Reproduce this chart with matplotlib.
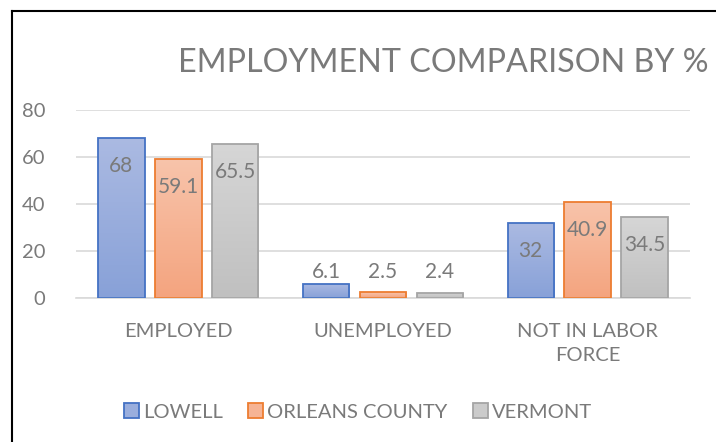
import matplotlib
matplotlib.use("Agg")
import matplotlib.pyplot as plt
import numpy as np
from matplotlib.colors import LinearSegmentedColormap, to_rgb
from matplotlib.lines import Line2D
from matplotlib.patches import Patch

categories = ["EMPLOYED", "UNEMPLOYED", "NOT IN LABOR\nFORCE"]
series_names = ["LOWELL", "ORLEANS COUNTY", "VERMONT"]
lowell = [68, 6.1, 32]
orleans = [59.1, 2.5, 40.9]
vermont = [65.5, 2.4, 34.5]
value_labels = [["68", "6.1", "32"], ["59.1", "2.5", "40.9"], ["65.5", "2.4", "34.5"]]
y_ticks = [0, 20, 40, 60, 80]

TEXT_GREY = "#7a7a7a"
GRID_GREY = "#d9d9d9"
edge_colors = ["#4472c4", "#ed7d31", "#a5a5a5"]
top_colors = ["#abbae2", "#f8c4ab", "#d6d6d6"]
bottom_colors = ["#88a1d8", "#f4a47f", "#c0c0c0"]

plt.rcParams["font.family"] = ["Lato", "DejaVu Sans"]

W, H = 716, 442
fig = plt.figure(figsize=(W / 100, H / 100), dpi=100)
ax = fig.add_axes([76 / W, 1 - 298.3 / H, (690 - 76) / W, (298.3 - 109.7) / H])

x = np.arange(len(categories))
bar_width = 0.227
step = 0.278


def gradient_fill(bar, top, bottom):
    bx, by = bar.get_x(), bar.get_y()
    bw, bh = bar.get_width(), bar.get_height()
    cmap = LinearSegmentedColormap.from_list("g", [bottom, top])
    grad = np.linspace(0, 1, 128).reshape(-1, 1)
    im = ax.imshow(grad, extent=(bx, bx + bw, by, by + bh), origin="lower",
                   aspect="auto", cmap=cmap, zorder=2)
    im.set_clip_path(bar)


for i, values in enumerate([lowell, orleans, vermont]):
    pos = x + (i - 1) * step
    bars = ax.bar(pos, values, bar_width, facecolor="none",
                  edgecolor=edge_colors[i], linewidth=1.3, zorder=3)
    for bar, v, lab in zip(bars, values, value_labels[i]):
        gradient_fill(bar, top_colors[i], bottom_colors[i])
        # inside end, but kept above the axis when the bar is too short
        label_y = max(v - 11.9, 11.0)
        ax.text(bar.get_x() + bar.get_width() / 2, label_y, lab,
                ha="center", va="center", fontsize=15, color=TEXT_GREY, zorder=4)

ax.set_xlim(-0.5, 2.5)
ax.set_ylim(0, 80)
ax.set_yticks(y_ticks)
ax.set_xticks(x)
ax.set_xticklabels(categories, linespacing=1.5)
ax.tick_params(axis="both", length=0, labelsize=14.5, colors=TEXT_GREY)
ax.tick_params(axis="y", pad=22)
ax.tick_params(axis="x", pad=18)
for label in ax.get_xticklabels():
    label.set_va("top")
ax.grid(axis="y", color=GRID_GREY, linewidth=1.2, zorder=0)
ax.set_axisbelow(True)
for side in ["top", "right", "left"]:
    ax.spines[side].set_visible(False)
ax.spines["bottom"].set_color(GRID_GREY)
ax.spines["bottom"].set_linewidth(1.2)

fig.text(178 / W, 1 - 72 / H, "EMPLOYMENT COMPARISON BY %", ha="left",
         va="baseline", fontsize=23.2, color=TEXT_GREY)

handles = [Patch(facecolor=(np.array(to_rgb(t)) + np.array(to_rgb(b))) / 2,
                 edgecolor=e, linewidth=1.3)
           for t, b, e in zip(top_colors, bottom_colors, edge_colors)]
fig.legend(handles, series_names, loc="center", bbox_to_anchor=(358 / W, 1 - 412 / H),
           ncol=3, frameon=False, fontsize=14.5, labelcolor=TEXT_GREY,
           handlelength=0.75, handleheight=0.75, handletextpad=0.2, columnspacing=1.25)

# chart border (only top and left edges visible in the crop)
fig.add_artist(Line2D([12 / W, 1], [1 - 11 / H, 1 - 11 / H], color="black", linewidth=1.5))
fig.add_artist(Line2D([12 / W, 12 / W], [0, 1 - 11 / H], color="black", linewidth=1.5))

fig.savefig("out.png", dpi=100)
